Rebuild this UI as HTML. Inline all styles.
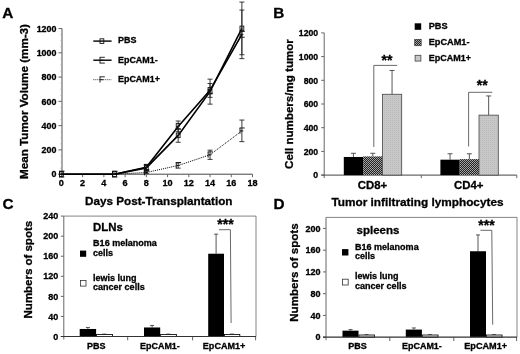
<!DOCTYPE html>
<html><head><meta charset="utf-8"><title>Figure</title>
<style>
html,body{margin:0;padding:0;background:#fff;}
svg{display:block;font-family:'Liberation Sans', Arial, Helvetica, sans-serif;}
text{stroke:#000;stroke-width:0.3px;}
</style></head><body>
<svg width="520" height="354" viewBox="0 0 520 354">
<defs>
<pattern id="chk" width="2" height="2" patternUnits="userSpaceOnUse">
<rect width="2" height="2" fill="#222"/><rect x="0" y="0" width="1" height="1" fill="#aaa"/><rect x="1" y="1" width="1" height="1" fill="#999"/>
</pattern>
<pattern id="gry" width="2" height="2" patternUnits="userSpaceOnUse">
<rect width="2" height="2" fill="#c8c8c8"/><rect x="0" y="0" width="1" height="1" fill="#bababa"/>
</pattern>
</defs>
<rect width="520" height="354" fill="#fff"/>

<text x="2.3" y="18.4" font-size="15.3" text-anchor="start" font-weight="bold" fill="#000" >A</text>
<line x1="62" y1="28.519999999999982" x2="62" y2="177.2" stroke="#707070" stroke-width="1.2" />
<line x1="58.4" y1="174.2" x2="252.50600000000003" y2="174.2" stroke="#444" stroke-width="1" />
<line x1="58.4" y1="174.2" x2="62" y2="174.2" stroke="#666" stroke-width="1" />
<text x="56.4" y="177.39999999999998" font-size="8.9" text-anchor="end" font-weight="bold" fill="#000" >0</text>
<line x1="58.4" y1="149.92" x2="62" y2="149.92" stroke="#666" stroke-width="1" />
<text x="56.4" y="153.11999999999998" font-size="8.9" text-anchor="end" font-weight="bold" fill="#000" >200</text>
<line x1="58.4" y1="125.63999999999999" x2="62" y2="125.63999999999999" stroke="#666" stroke-width="1" />
<text x="56.4" y="128.83999999999997" font-size="8.9" text-anchor="end" font-weight="bold" fill="#000" >400</text>
<line x1="58.4" y1="101.35999999999999" x2="62" y2="101.35999999999999" stroke="#666" stroke-width="1" />
<text x="56.4" y="104.55999999999999" font-size="8.9" text-anchor="end" font-weight="bold" fill="#000" >600</text>
<line x1="58.4" y1="77.08" x2="62" y2="77.08" stroke="#666" stroke-width="1" />
<text x="56.4" y="80.28" font-size="8.9" text-anchor="end" font-weight="bold" fill="#000" >800</text>
<line x1="58.4" y1="52.8" x2="62" y2="52.8" stroke="#666" stroke-width="1" />
<text x="56.4" y="56.0" font-size="8.9" text-anchor="end" font-weight="bold" fill="#000" >1000</text>
<line x1="58.4" y1="28.519999999999982" x2="62" y2="28.519999999999982" stroke="#666" stroke-width="1" />
<text x="56.4" y="31.71999999999998" font-size="8.9" text-anchor="end" font-weight="bold" fill="#000" >1200</text>
<line x1="61.4" y1="174.2" x2="61.4" y2="177.2" stroke="#666" stroke-width="1" />
<text x="61.4" y="186.4" font-size="9.1" text-anchor="middle" font-weight="bold" fill="#000" >0</text>
<line x1="82.634" y1="174.2" x2="82.634" y2="177.2" stroke="#666" stroke-width="1" />
<text x="82.634" y="186.4" font-size="9.1" text-anchor="middle" font-weight="bold" fill="#000" >2</text>
<line x1="103.868" y1="174.2" x2="103.868" y2="177.2" stroke="#666" stroke-width="1" />
<text x="103.868" y="186.4" font-size="9.1" text-anchor="middle" font-weight="bold" fill="#000" >4</text>
<line x1="125.102" y1="174.2" x2="125.102" y2="177.2" stroke="#666" stroke-width="1" />
<text x="125.102" y="186.4" font-size="9.1" text-anchor="middle" font-weight="bold" fill="#000" >6</text>
<line x1="146.336" y1="174.2" x2="146.336" y2="177.2" stroke="#666" stroke-width="1" />
<text x="146.336" y="186.4" font-size="9.1" text-anchor="middle" font-weight="bold" fill="#000" >8</text>
<line x1="167.57000000000002" y1="174.2" x2="167.57000000000002" y2="177.2" stroke="#666" stroke-width="1" />
<text x="167.57000000000002" y="186.4" font-size="9.1" text-anchor="middle" font-weight="bold" fill="#000" >10</text>
<line x1="188.804" y1="174.2" x2="188.804" y2="177.2" stroke="#666" stroke-width="1" />
<text x="188.804" y="186.4" font-size="9.1" text-anchor="middle" font-weight="bold" fill="#000" >12</text>
<line x1="210.038" y1="174.2" x2="210.038" y2="177.2" stroke="#666" stroke-width="1" />
<text x="210.038" y="186.4" font-size="9.1" text-anchor="middle" font-weight="bold" fill="#000" >14</text>
<line x1="231.27200000000002" y1="174.2" x2="231.27200000000002" y2="177.2" stroke="#666" stroke-width="1" />
<text x="231.27200000000002" y="186.4" font-size="9.1" text-anchor="middle" font-weight="bold" fill="#000" >16</text>
<line x1="252.50600000000003" y1="174.2" x2="252.50600000000003" y2="177.2" stroke="#666" stroke-width="1" />
<text x="252.50600000000003" y="186.4" font-size="9.1" text-anchor="middle" font-weight="bold" fill="#000" >18</text>
<line x1="60.2" y1="168.13" x2="62" y2="168.13" stroke="#aaa" stroke-width="0.6" />
<line x1="60.2" y1="162.06" x2="62" y2="162.06" stroke="#aaa" stroke-width="0.6" />
<line x1="60.2" y1="155.98999999999998" x2="62" y2="155.98999999999998" stroke="#aaa" stroke-width="0.6" />
<line x1="60.2" y1="143.85" x2="62" y2="143.85" stroke="#aaa" stroke-width="0.6" />
<line x1="60.2" y1="137.77999999999997" x2="62" y2="137.77999999999997" stroke="#aaa" stroke-width="0.6" />
<line x1="60.2" y1="131.70999999999998" x2="62" y2="131.70999999999998" stroke="#aaa" stroke-width="0.6" />
<line x1="60.2" y1="119.57" x2="62" y2="119.57" stroke="#aaa" stroke-width="0.6" />
<line x1="60.2" y1="113.5" x2="62" y2="113.5" stroke="#aaa" stroke-width="0.6" />
<line x1="60.2" y1="107.42999999999999" x2="62" y2="107.42999999999999" stroke="#aaa" stroke-width="0.6" />
<line x1="60.2" y1="95.28999999999999" x2="62" y2="95.28999999999999" stroke="#aaa" stroke-width="0.6" />
<line x1="60.2" y1="89.22" x2="62" y2="89.22" stroke="#aaa" stroke-width="0.6" />
<line x1="60.2" y1="83.14999999999999" x2="62" y2="83.14999999999999" stroke="#aaa" stroke-width="0.6" />
<line x1="60.2" y1="71.00999999999999" x2="62" y2="71.00999999999999" stroke="#aaa" stroke-width="0.6" />
<line x1="60.2" y1="64.94" x2="62" y2="64.94" stroke="#aaa" stroke-width="0.6" />
<line x1="60.2" y1="58.86999999999999" x2="62" y2="58.86999999999999" stroke="#aaa" stroke-width="0.6" />
<line x1="60.2" y1="46.72999999999999" x2="62" y2="46.72999999999999" stroke="#aaa" stroke-width="0.6" />
<line x1="60.2" y1="40.66" x2="62" y2="40.66" stroke="#aaa" stroke-width="0.6" />
<line x1="60.2" y1="34.59" x2="62" y2="34.59" stroke="#aaa" stroke-width="0.6" />
<text x="28.2" y="179" font-size="11.3" text-anchor="start" font-weight="bold" fill="#000" textLength="155" lengthAdjust="spacingAndGlyphs" transform="rotate(-90 28.2 179)" >Mean Tumor Volume (mm-3)</text>
<text x="85" y="205" font-size="11.6" text-anchor="start" font-weight="bold" fill="#000" textLength="147.5" lengthAdjust="spacingAndGlyphs" >Days Post-Transplantation</text>
<polyline points="61.4,174.2 114.5,174.2 146.3,167.9 178.2,135.4 210.0,91.6 241.9,28.4" fill="none" stroke="#000" stroke-width="1.6" />
<rect x="59.50" y="171.90" width="3.80" height="4.60" fill="none" stroke="#111" stroke-width="0.9" />
<rect x="112.59" y="171.90" width="3.80" height="4.60" fill="none" stroke="#111" stroke-width="0.9" />
<line x1="146.336" y1="165.2164" x2="146.336" y2="170.558" stroke="#222" stroke-width="0.9" />
<line x1="143.836" y1="165.2164" x2="148.836" y2="165.2164" stroke="#222" stroke-width="0.9" />
<line x1="143.836" y1="170.558" x2="148.836" y2="170.558" stroke="#222" stroke-width="0.9" />
<rect x="144.44" y="165.59" width="3.80" height="4.60" fill="none" stroke="#111" stroke-width="0.9" />
<line x1="178.187" y1="128.4322" x2="178.187" y2="142.27179999999998" stroke="#222" stroke-width="0.9" />
<line x1="175.687" y1="128.4322" x2="180.687" y2="128.4322" stroke="#222" stroke-width="0.9" />
<line x1="175.687" y1="142.27179999999998" x2="180.687" y2="142.27179999999998" stroke="#222" stroke-width="0.9" />
<rect x="176.29" y="133.05" width="3.80" height="4.60" fill="none" stroke="#111" stroke-width="0.9" />
<line x1="210.038" y1="79.1438" x2="210.038" y2="104.1522" stroke="#222" stroke-width="0.9" />
<line x1="207.538" y1="79.1438" x2="212.538" y2="79.1438" stroke="#222" stroke-width="0.9" />
<line x1="207.538" y1="104.1522" x2="212.538" y2="104.1522" stroke="#222" stroke-width="0.9" />
<rect x="208.14" y="89.35" width="3.80" height="4.60" fill="none" stroke="#111" stroke-width="0.9" />
<line x1="241.889" y1="2.0548" x2="241.889" y2="54.74239999999999" stroke="#222" stroke-width="0.9" />
<line x1="239.389" y1="2.0548" x2="244.389" y2="2.0548" stroke="#222" stroke-width="0.9" />
<line x1="239.389" y1="54.74239999999999" x2="244.389" y2="54.74239999999999" stroke="#222" stroke-width="0.9" />
<rect x="239.99" y="26.10" width="3.80" height="4.60" fill="none" stroke="#111" stroke-width="0.9" />
<polyline points="61.4,174.2 114.5,174.2 146.3,167.3 178.2,126.4 210.0,90.4 241.9,34.3" fill="none" stroke="#000" stroke-width="1.6" />
<line x1="59.5" y1="171.29999999999998" x2="59.5" y2="177.1" stroke="#111" stroke-width="0.9" />
<line x1="59.1" y1="171.29999999999998" x2="64.3" y2="171.29999999999998" stroke="#111" stroke-width="0.9" />
<line x1="59.5" y1="174.2" x2="62.9" y2="174.2" stroke="#111" stroke-width="0.9" />
<line x1="59.1" y1="177.1" x2="64.3" y2="177.1" stroke="#111" stroke-width="0.9" />
<line x1="112.58500000000001" y1="171.29999999999998" x2="112.58500000000001" y2="177.1" stroke="#111" stroke-width="0.9" />
<line x1="112.18500000000002" y1="171.29999999999998" x2="117.38500000000002" y2="171.29999999999998" stroke="#111" stroke-width="0.9" />
<line x1="112.58500000000001" y1="174.2" x2="115.98500000000001" y2="174.2" stroke="#111" stroke-width="0.9" />
<line x1="112.18500000000002" y1="177.1" x2="117.38500000000002" y2="177.1" stroke="#111" stroke-width="0.9" />
<line x1="146.336" y1="164.6094" x2="146.336" y2="169.951" stroke="#222" stroke-width="0.9" />
<line x1="143.836" y1="164.6094" x2="148.836" y2="164.6094" stroke="#222" stroke-width="0.9" />
<line x1="143.836" y1="169.951" x2="148.836" y2="169.951" stroke="#222" stroke-width="0.9" />
<line x1="144.436" y1="164.38019999999997" x2="144.436" y2="170.18019999999999" stroke="#111" stroke-width="0.9" />
<line x1="144.036" y1="164.38019999999997" x2="149.23600000000002" y2="164.38019999999997" stroke="#111" stroke-width="0.9" />
<line x1="144.436" y1="167.28019999999998" x2="147.836" y2="167.28019999999998" stroke="#111" stroke-width="0.9" />
<line x1="144.036" y1="170.18019999999999" x2="149.23600000000002" y2="170.18019999999999" stroke="#111" stroke-width="0.9" />
<line x1="178.187" y1="121.0268" x2="178.187" y2="131.70999999999998" stroke="#222" stroke-width="0.9" />
<line x1="175.687" y1="121.0268" x2="180.687" y2="121.0268" stroke="#222" stroke-width="0.9" />
<line x1="175.687" y1="131.70999999999998" x2="180.687" y2="131.70999999999998" stroke="#222" stroke-width="0.9" />
<line x1="176.287" y1="123.46839999999999" x2="176.287" y2="129.26839999999999" stroke="#111" stroke-width="0.9" />
<line x1="175.887" y1="123.46839999999999" x2="181.08700000000002" y2="123.46839999999999" stroke="#111" stroke-width="0.9" />
<line x1="176.287" y1="126.3684" x2="179.687" y2="126.3684" stroke="#111" stroke-width="0.9" />
<line x1="175.887" y1="129.26839999999999" x2="181.08700000000002" y2="129.26839999999999" stroke="#111" stroke-width="0.9" />
<line x1="210.038" y1="83.51419999999999" x2="210.038" y2="97.35379999999999" stroke="#222" stroke-width="0.9" />
<line x1="207.538" y1="83.51419999999999" x2="212.538" y2="83.51419999999999" stroke="#222" stroke-width="0.9" />
<line x1="207.538" y1="97.35379999999999" x2="212.538" y2="97.35379999999999" stroke="#222" stroke-width="0.9" />
<line x1="208.138" y1="87.53399999999999" x2="208.138" y2="93.334" stroke="#111" stroke-width="0.9" />
<line x1="207.738" y1="87.53399999999999" x2="212.93800000000002" y2="87.53399999999999" stroke="#111" stroke-width="0.9" />
<line x1="208.138" y1="90.434" x2="211.538" y2="90.434" stroke="#111" stroke-width="0.9" />
<line x1="207.738" y1="93.334" x2="212.93800000000002" y2="93.334" stroke="#111" stroke-width="0.9" />
<line x1="241.889" y1="10.067199999999985" x2="241.889" y2="58.62719999999999" stroke="#222" stroke-width="0.9" />
<line x1="239.389" y1="10.067199999999985" x2="244.389" y2="10.067199999999985" stroke="#222" stroke-width="0.9" />
<line x1="239.389" y1="58.62719999999999" x2="244.389" y2="58.62719999999999" stroke="#222" stroke-width="0.9" />
<line x1="239.989" y1="31.447199999999988" x2="239.989" y2="37.247199999999985" stroke="#111" stroke-width="0.9" />
<line x1="239.589" y1="31.447199999999988" x2="244.78900000000002" y2="31.447199999999988" stroke="#111" stroke-width="0.9" />
<line x1="239.989" y1="34.34719999999999" x2="243.389" y2="34.34719999999999" stroke="#111" stroke-width="0.9" />
<line x1="239.589" y1="37.247199999999985" x2="244.78900000000002" y2="37.247199999999985" stroke="#111" stroke-width="0.9" />
<polyline points="61.4,174.2 114.5,174.2 146.3,172.5 178.2,165.5 210.0,154.8 241.9,130.9" fill="none" stroke="#000" stroke-width="1" stroke-dasharray="1 1"/>
<line x1="59.5" y1="171.29999999999998" x2="59.5" y2="177.1" stroke="#111" stroke-width="0.9" />
<line x1="59.1" y1="171.29999999999998" x2="64.3" y2="171.29999999999998" stroke="#111" stroke-width="0.9" />
<line x1="59.5" y1="174.2" x2="62.9" y2="174.2" stroke="#111" stroke-width="0.9" />
<line x1="112.58500000000001" y1="171.29999999999998" x2="112.58500000000001" y2="177.1" stroke="#111" stroke-width="0.9" />
<line x1="112.18500000000002" y1="171.29999999999998" x2="117.38500000000002" y2="171.29999999999998" stroke="#111" stroke-width="0.9" />
<line x1="112.58500000000001" y1="174.2" x2="115.98500000000001" y2="174.2" stroke="#111" stroke-width="0.9" />
<line x1="146.336" y1="171.5292" x2="146.336" y2="173.4716" stroke="#222" stroke-width="0.9" />
<line x1="143.836" y1="171.5292" x2="148.836" y2="171.5292" stroke="#222" stroke-width="0.9" />
<line x1="143.836" y1="173.4716" x2="148.836" y2="173.4716" stroke="#222" stroke-width="0.9" />
<line x1="144.436" y1="169.60039999999998" x2="144.436" y2="175.4004" stroke="#111" stroke-width="0.9" />
<line x1="144.036" y1="169.60039999999998" x2="149.23600000000002" y2="169.60039999999998" stroke="#111" stroke-width="0.9" />
<line x1="144.436" y1="172.50039999999998" x2="147.836" y2="172.50039999999998" stroke="#111" stroke-width="0.9" />
<line x1="178.187" y1="162.7884" x2="178.187" y2="168.13" stroke="#222" stroke-width="0.9" />
<line x1="175.687" y1="162.7884" x2="180.687" y2="162.7884" stroke="#222" stroke-width="0.9" />
<line x1="175.687" y1="168.13" x2="180.687" y2="168.13" stroke="#222" stroke-width="0.9" />
<line x1="176.287" y1="162.55919999999998" x2="176.287" y2="168.3592" stroke="#111" stroke-width="0.9" />
<line x1="175.887" y1="162.55919999999998" x2="181.08700000000002" y2="162.55919999999998" stroke="#111" stroke-width="0.9" />
<line x1="176.287" y1="165.45919999999998" x2="179.687" y2="165.45919999999998" stroke="#111" stroke-width="0.9" />
<line x1="210.038" y1="150.1628" x2="210.038" y2="159.3892" stroke="#222" stroke-width="0.9" />
<line x1="207.538" y1="150.1628" x2="212.538" y2="150.1628" stroke="#222" stroke-width="0.9" />
<line x1="207.538" y1="159.3892" x2="212.538" y2="159.3892" stroke="#222" stroke-width="0.9" />
<line x1="208.138" y1="151.87599999999998" x2="208.138" y2="157.676" stroke="#111" stroke-width="0.9" />
<line x1="207.738" y1="151.87599999999998" x2="212.93800000000002" y2="151.87599999999998" stroke="#111" stroke-width="0.9" />
<line x1="208.138" y1="154.77599999999998" x2="211.538" y2="154.77599999999998" stroke="#111" stroke-width="0.9" />
<line x1="241.889" y1="120.0556" x2="241.889" y2="141.66479999999999" stroke="#222" stroke-width="0.9" />
<line x1="239.389" y1="120.0556" x2="244.389" y2="120.0556" stroke="#222" stroke-width="0.9" />
<line x1="239.389" y1="141.66479999999999" x2="244.389" y2="141.66479999999999" stroke="#222" stroke-width="0.9" />
<line x1="239.989" y1="127.96019999999999" x2="239.989" y2="133.7602" stroke="#111" stroke-width="0.9" />
<line x1="239.589" y1="127.96019999999999" x2="244.78900000000002" y2="127.96019999999999" stroke="#111" stroke-width="0.9" />
<line x1="239.989" y1="130.8602" x2="243.389" y2="130.8602" stroke="#111" stroke-width="0.9" />
<line x1="93.3" y1="41.1" x2="111.6" y2="41.1" stroke="#000" stroke-width="1.4" />
<rect x="100.00" y="38.80" width="3.80" height="4.60" fill="none" stroke="#111" stroke-width="0.9" />
<text x="118" y="43.3" font-size="9" text-anchor="start" font-weight="bold" fill="#000" textLength="18.4" lengthAdjust="spacingAndGlyphs" >PBS</text>
<line x1="93.3" y1="60.2" x2="111.6" y2="60.2" stroke="#000" stroke-width="1.4" />
<line x1="100.0" y1="57.300000000000004" x2="100.0" y2="63.1" stroke="#111" stroke-width="0.9" />
<line x1="99.60000000000001" y1="57.300000000000004" x2="104.80000000000001" y2="57.300000000000004" stroke="#111" stroke-width="0.9" />
<line x1="100.0" y1="60.2" x2="103.4" y2="60.2" stroke="#111" stroke-width="0.9" />
<line x1="99.60000000000001" y1="63.1" x2="104.80000000000001" y2="63.1" stroke="#111" stroke-width="0.9" />
<text x="118" y="62.6" font-size="9" text-anchor="start" font-weight="bold" fill="#000" textLength="39.7" lengthAdjust="spacingAndGlyphs" >EpCAM1-</text>
<line x1="93.3" y1="79.7" x2="111.6" y2="79.7" stroke="#000" stroke-width="0.8" stroke-dasharray="1 1"/>
<line x1="100.0" y1="76.8" x2="100.0" y2="82.60000000000001" stroke="#111" stroke-width="0.9" />
<line x1="99.60000000000001" y1="76.8" x2="104.80000000000001" y2="76.8" stroke="#111" stroke-width="0.9" />
<line x1="100.0" y1="79.7" x2="103.4" y2="79.7" stroke="#111" stroke-width="0.9" />
<text x="118" y="82.2" font-size="9" text-anchor="start" font-weight="bold" fill="#000" textLength="41.9" lengthAdjust="spacingAndGlyphs" >EpCAM1+</text>
<text x="273.3" y="18.4" font-size="15.3" text-anchor="start" font-weight="bold" fill="#000" >B</text>
<line x1="324.2" y1="32.900000000000006" x2="324.2" y2="178.1" stroke="#666" stroke-width="1" />
<line x1="321.2" y1="175.1" x2="516.8" y2="175.1" stroke="#444" stroke-width="1" />
<line x1="421.3" y1="175.1" x2="421.3" y2="178.1" stroke="#666" stroke-width="1" />
<line x1="516.8" y1="175.1" x2="516.8" y2="178.1" stroke="#666" stroke-width="1" />
<line x1="321.2" y1="175.1" x2="324.2" y2="175.1" stroke="#666" stroke-width="1" />
<text x="318.2" y="178.29999999999998" font-size="8.7" text-anchor="end" font-weight="bold" fill="#000" >0</text>
<line x1="321.2" y1="151.4" x2="324.2" y2="151.4" stroke="#666" stroke-width="1" />
<text x="318.2" y="154.6" font-size="8.7" text-anchor="end" font-weight="bold" fill="#000" >200</text>
<line x1="321.2" y1="127.69999999999999" x2="324.2" y2="127.69999999999999" stroke="#666" stroke-width="1" />
<text x="318.2" y="130.89999999999998" font-size="8.7" text-anchor="end" font-weight="bold" fill="#000" >400</text>
<line x1="321.2" y1="104.0" x2="324.2" y2="104.0" stroke="#666" stroke-width="1" />
<text x="318.2" y="107.2" font-size="8.7" text-anchor="end" font-weight="bold" fill="#000" >600</text>
<line x1="321.2" y1="80.3" x2="324.2" y2="80.3" stroke="#666" stroke-width="1" />
<text x="318.2" y="83.5" font-size="8.7" text-anchor="end" font-weight="bold" fill="#000" >800</text>
<line x1="321.2" y1="56.599999999999994" x2="324.2" y2="56.599999999999994" stroke="#666" stroke-width="1" />
<text x="318.2" y="59.8" font-size="8.7" text-anchor="end" font-weight="bold" fill="#000" >1000</text>
<line x1="321.2" y1="32.900000000000006" x2="324.2" y2="32.900000000000006" stroke="#666" stroke-width="1" />
<text x="318.2" y="36.10000000000001" font-size="8.7" text-anchor="end" font-weight="bold" fill="#000" >1200</text>
<text x="292.6" y="168.9" font-size="11.5" text-anchor="start" font-weight="bold" fill="#000" textLength="129.7" lengthAdjust="spacingAndGlyphs" transform="rotate(-90 292.6 168.9)" >Cell numbers/mg tumor</text>
<line x1="353.45" y1="153.296" x2="353.45" y2="156.96949999999998" stroke="#444" stroke-width="0.9" />
<line x1="350.95" y1="153.296" x2="355.95" y2="153.296" stroke="#444" stroke-width="0.9" />
<rect x="343.80" y="156.97" width="19.30" height="18.13" fill="#000" stroke="none" stroke-width="0.8" />
<line x1="372.75" y1="153.296" x2="372.75" y2="156.377" stroke="#444" stroke-width="0.9" />
<line x1="370.25" y1="153.296" x2="375.25" y2="153.296" stroke="#444" stroke-width="0.9" />
<rect x="363.10" y="156.38" width="19.30" height="18.72" fill="url(#chk)" stroke="none" stroke-width="0.8" />
<line x1="392.05" y1="70.4645" x2="392.05" y2="94.283" stroke="#444" stroke-width="0.9" />
<line x1="389.55" y1="70.4645" x2="394.55" y2="70.4645" stroke="#444" stroke-width="0.9" />
<rect x="382.40" y="94.28" width="19.30" height="80.82" fill="url(#gry)" stroke="#444" stroke-width="0.8" />
<line x1="450.04999999999995" y1="153.76999999999998" x2="450.04999999999995" y2="159.695" stroke="#444" stroke-width="0.9" />
<line x1="447.54999999999995" y1="153.76999999999998" x2="452.54999999999995" y2="153.76999999999998" stroke="#444" stroke-width="0.9" />
<rect x="440.40" y="159.69" width="19.30" height="15.41" fill="#000" stroke="none" stroke-width="0.8" />
<line x1="469.34999999999997" y1="153.76999999999998" x2="469.34999999999997" y2="159.1025" stroke="#444" stroke-width="0.9" />
<line x1="466.84999999999997" y1="153.76999999999998" x2="471.84999999999997" y2="153.76999999999998" stroke="#444" stroke-width="0.9" />
<rect x="459.70" y="159.10" width="19.30" height="16.00" fill="url(#chk)" stroke="none" stroke-width="0.8" />
<line x1="488.65" y1="95.942" x2="488.65" y2="115.139" stroke="#444" stroke-width="0.9" />
<line x1="486.15" y1="95.942" x2="491.15" y2="95.942" stroke="#444" stroke-width="0.9" />
<rect x="479.00" y="115.14" width="19.30" height="59.96" fill="url(#gry)" stroke="#444" stroke-width="0.8" />
<polyline points="373.8,147 373.8,65.4 397.2,65.4" fill="none" stroke="#444" stroke-width="0.8"/>
<polyline points="468.6,146.5 468.6,92.3 492.3,92.3" fill="none" stroke="#444" stroke-width="0.8"/>
<text x="387" y="65" font-size="14" text-anchor="middle" font-weight="bold" fill="#000" >**</text>
<text x="482.3" y="90" font-size="14" text-anchor="middle" font-weight="bold" fill="#000" >**</text>
<text x="357.8" y="189" font-size="11" text-anchor="start" font-weight="bold" fill="#000" textLength="29.4" lengthAdjust="spacingAndGlyphs" >CD8+</text>
<text x="454" y="189" font-size="11" text-anchor="start" font-weight="bold" fill="#000" textLength="29.4" lengthAdjust="spacingAndGlyphs" >CD4+</text>
<text x="331.5" y="205.5" font-size="11.6" text-anchor="start" font-weight="bold" fill="#000" textLength="172" lengthAdjust="spacingAndGlyphs" >Tumor infiltrating lymphocytes</text>
<rect x="414.70" y="23.30" width="6.50" height="6.50" fill="#000" stroke="none" stroke-width="1" />
<rect x="414.70" y="39.30" width="6.50" height="6.50" fill="url(#chk)" stroke="#333" stroke-width="0.6" />
<rect x="415.10" y="55.30" width="5.80" height="5.80" fill="#c8c8c8" stroke="#444" stroke-width="0.8" />
<text x="428.7" y="29.2" font-size="9.2" text-anchor="start" font-weight="bold" fill="#000" >PBS</text>
<text x="428.7" y="45.3" font-size="9.2" text-anchor="start" font-weight="bold" fill="#000" >EpCAM1-</text>
<text x="428.7" y="61.2" font-size="9.2" text-anchor="start" font-weight="bold" fill="#000" textLength="42.4" lengthAdjust="spacingAndGlyphs" >EpCAM1+</text>
<text x="2.5" y="208.6" font-size="15.3" text-anchor="start" font-weight="bold" fill="#000" >C</text>
<line x1="63.8" y1="216.1" x2="256" y2="216.1" stroke="#666" stroke-width="0.8" />
<line x1="256" y1="216.1" x2="256" y2="336.5" stroke="#666" stroke-width="0.8" />
<line x1="63.8" y1="216.1" x2="63.8" y2="339.5" stroke="#666" stroke-width="1" />
<line x1="127.7" y1="336.5" x2="127.7" y2="340.3" stroke="#666" stroke-width="1" />
<line x1="192.6" y1="336.5" x2="192.6" y2="340.3" stroke="#666" stroke-width="1" />
<line x1="255.6" y1="336.5" x2="255.6" y2="340.3" stroke="#666" stroke-width="1" />
<line x1="60.8" y1="336.5" x2="63.8" y2="336.5" stroke="#666" stroke-width="1" />
<text x="58.3" y="339.7" font-size="9" text-anchor="end" font-weight="bold" fill="#000" >0</text>
<line x1="60.8" y1="316.432" x2="63.8" y2="316.432" stroke="#666" stroke-width="1" />
<text x="58.3" y="319.632" font-size="9" text-anchor="end" font-weight="bold" fill="#000" >40</text>
<line x1="60.8" y1="296.364" x2="63.8" y2="296.364" stroke="#666" stroke-width="1" />
<text x="58.3" y="299.56399999999996" font-size="9" text-anchor="end" font-weight="bold" fill="#000" >80</text>
<line x1="60.8" y1="276.296" x2="63.8" y2="276.296" stroke="#666" stroke-width="1" />
<text x="58.3" y="279.496" font-size="9" text-anchor="end" font-weight="bold" fill="#000" >120</text>
<line x1="60.8" y1="256.228" x2="63.8" y2="256.228" stroke="#666" stroke-width="1" />
<text x="58.3" y="259.428" font-size="9" text-anchor="end" font-weight="bold" fill="#000" >160</text>
<line x1="60.8" y1="236.16" x2="63.8" y2="236.16" stroke="#666" stroke-width="1" />
<text x="58.3" y="239.35999999999999" font-size="9" text-anchor="end" font-weight="bold" fill="#000" >200</text>
<line x1="60.8" y1="216.09199999999998" x2="63.8" y2="216.09199999999998" stroke="#666" stroke-width="1" />
<text x="58.3" y="219.29199999999997" font-size="9" text-anchor="end" font-weight="bold" fill="#000" >240</text>
<line x1="87.9" y1="327.4694" x2="87.9" y2="328.9745" stroke="#444" stroke-width="0.9" />
<line x1="85.9" y1="327.4694" x2="89.9" y2="327.4694" stroke="#444" stroke-width="0.9" />
<rect x="79.70" y="328.97" width="16.40" height="7.53" fill="#000" stroke="none" stroke-width="1" />
<line x1="104.3" y1="333.9915" x2="104.3" y2="334.4932" stroke="#444" stroke-width="0.7" />
<line x1="102.3" y1="333.9915" x2="106.3" y2="333.9915" stroke="#444" stroke-width="0.7" />
<rect x="96.50" y="334.49" width="16.00" height="2.01" fill="#fff" stroke="#111" stroke-width="0.9" />
<line x1="152.1" y1="325.4626" x2="152.1" y2="327.4694" stroke="#444" stroke-width="0.9" />
<line x1="150.1" y1="325.4626" x2="154.1" y2="325.4626" stroke="#444" stroke-width="0.9" />
<rect x="144.00" y="327.47" width="16.20" height="9.03" fill="#000" stroke="none" stroke-width="1" />
<line x1="168.3" y1="333.9915" x2="168.3" y2="334.4932" stroke="#444" stroke-width="0.7" />
<line x1="166.3" y1="333.9915" x2="170.3" y2="333.9915" stroke="#444" stroke-width="0.7" />
<rect x="160.60" y="334.49" width="15.80" height="2.01" fill="#fff" stroke="#111" stroke-width="0.9" />
<line x1="216.1" y1="234.1532" x2="216.1" y2="253.71949999999998" stroke="#444" stroke-width="0.9" />
<line x1="214.1" y1="234.1532" x2="218.1" y2="234.1532" stroke="#444" stroke-width="0.9" />
<rect x="208.20" y="253.72" width="15.80" height="82.78" fill="#000" stroke="none" stroke-width="1" />
<line x1="231.89999999999998" y1="333.9915" x2="231.89999999999998" y2="334.4932" stroke="#444" stroke-width="0.7" />
<line x1="229.89999999999998" y1="333.9915" x2="233.89999999999998" y2="333.9915" stroke="#444" stroke-width="0.7" />
<rect x="224.40" y="334.49" width="15.40" height="2.01" fill="#fff" stroke="#111" stroke-width="0.9" />
<line x1="60.8" y1="336.5" x2="256" y2="336.5" stroke="#333" stroke-width="1.2" />
<text x="32.2" y="318.4" font-size="11.5" text-anchor="start" font-weight="bold" fill="#000" textLength="97.5" lengthAdjust="spacingAndGlyphs" transform="rotate(-90 32.2 318.4)" >Numbers of spots</text>
<text x="93.1" y="230.8" font-size="11.4" text-anchor="start" font-weight="bold" fill="#000" textLength="29.8" lengthAdjust="spacingAndGlyphs" >DLNs</text>
<rect x="80.00" y="250.60" width="6.20" height="6.20" fill="#000" stroke="none" stroke-width="1" />
<rect x="80.40" y="280.50" width="5.60" height="5.60" fill="#fff" stroke="#333" stroke-width="0.8" />
<text x="93.1" y="246.3" font-size="9" text-anchor="start" font-weight="bold" fill="#000" textLength="63.8" lengthAdjust="spacingAndGlyphs" >B16 melanoma</text>
<text x="93.1" y="255.7" font-size="9" text-anchor="start" font-weight="bold" fill="#000" >cells</text>
<text x="93.1" y="280.6" font-size="9" text-anchor="start" font-weight="bold" fill="#000" >lewis lung</text>
<text x="93.1" y="289.8" font-size="9" text-anchor="start" font-weight="bold" fill="#000" >cancer cells</text>
<polyline points="219,229.7 230.4,229.7 231.1,323" fill="none" stroke="#444" stroke-width="0.8"/>
<text x="225.5" y="229" font-size="14" text-anchor="middle" font-weight="bold" fill="#000" >***</text>
<text x="86.9" y="348.5" font-size="9" text-anchor="start" font-weight="bold" fill="#000" >PBS</text>
<text x="140" y="348.5" font-size="9" text-anchor="start" font-weight="bold" fill="#000" textLength="39.8" lengthAdjust="spacingAndGlyphs" >EpCAM1-</text>
<text x="202.8" y="348.5" font-size="9" text-anchor="start" font-weight="bold" fill="#000" textLength="42.6" lengthAdjust="spacingAndGlyphs" >EpCAM1+</text>
<text x="273.5" y="208.6" font-size="15.3" text-anchor="start" font-weight="bold" fill="#000" >D</text>
<line x1="326" y1="217.4" x2="517" y2="217.4" stroke="#666" stroke-width="0.8" />
<line x1="517" y1="217.4" x2="517" y2="337.2" stroke="#666" stroke-width="0.8" />
<line x1="326" y1="217.4" x2="326" y2="340.2" stroke="#666" stroke-width="1" />
<line x1="389.8" y1="337.2" x2="389.8" y2="341.0" stroke="#666" stroke-width="1" />
<line x1="453.8" y1="337.2" x2="453.8" y2="341.0" stroke="#666" stroke-width="1" />
<line x1="516.6" y1="337.2" x2="516.6" y2="341.0" stroke="#666" stroke-width="1" />
<line x1="323" y1="337.2" x2="326" y2="337.2" stroke="#666" stroke-width="1" />
<text x="320.5" y="340.4" font-size="9" text-anchor="end" font-weight="bold" fill="#000" >0</text>
<line x1="323" y1="315.44" x2="326" y2="315.44" stroke="#666" stroke-width="1" />
<text x="320.5" y="318.64" font-size="9" text-anchor="end" font-weight="bold" fill="#000" >40</text>
<line x1="323" y1="293.68" x2="326" y2="293.68" stroke="#666" stroke-width="1" />
<text x="320.5" y="296.88" font-size="9" text-anchor="end" font-weight="bold" fill="#000" >80</text>
<line x1="323" y1="271.91999999999996" x2="326" y2="271.91999999999996" stroke="#666" stroke-width="1" />
<text x="320.5" y="275.11999999999995" font-size="9" text-anchor="end" font-weight="bold" fill="#000" >120</text>
<line x1="323" y1="250.15999999999997" x2="326" y2="250.15999999999997" stroke="#666" stroke-width="1" />
<text x="320.5" y="253.35999999999996" font-size="9" text-anchor="end" font-weight="bold" fill="#000" >160</text>
<line x1="323" y1="228.39999999999998" x2="326" y2="228.39999999999998" stroke="#666" stroke-width="1" />
<text x="320.5" y="231.59999999999997" font-size="9" text-anchor="end" font-weight="bold" fill="#000" >200</text>
<line x1="350.5" y1="329.584" x2="350.5" y2="330.67199999999997" stroke="#444" stroke-width="0.9" />
<line x1="348.5" y1="329.584" x2="352.5" y2="329.584" stroke="#444" stroke-width="0.9" />
<rect x="342.50" y="330.67" width="16.00" height="6.53" fill="#000" stroke="none" stroke-width="1" />
<line x1="366.5" y1="334.47999999999996" x2="366.5" y2="335.024" stroke="#444" stroke-width="0.7" />
<line x1="364.5" y1="334.47999999999996" x2="368.5" y2="334.47999999999996" stroke="#444" stroke-width="0.7" />
<rect x="358.90" y="335.02" width="15.60" height="2.18" fill="#fff" stroke="#111" stroke-width="0.9" />
<line x1="413.85" y1="327.952" x2="413.85" y2="329.584" stroke="#444" stroke-width="0.9" />
<line x1="411.85" y1="327.952" x2="415.85" y2="327.952" stroke="#444" stroke-width="0.9" />
<rect x="405.80" y="329.58" width="16.10" height="7.62" fill="#000" stroke="none" stroke-width="1" />
<line x1="429.95" y1="334.47999999999996" x2="429.95" y2="335.024" stroke="#444" stroke-width="0.7" />
<line x1="427.95" y1="334.47999999999996" x2="431.95" y2="334.47999999999996" stroke="#444" stroke-width="0.7" />
<rect x="422.30" y="335.02" width="15.70" height="2.18" fill="#fff" stroke="#111" stroke-width="0.9" />
<line x1="478.0" y1="234.928" x2="478.0" y2="251.248" stroke="#444" stroke-width="0.9" />
<line x1="476.0" y1="234.928" x2="480.0" y2="234.928" stroke="#444" stroke-width="0.9" />
<rect x="470.00" y="251.25" width="16.00" height="85.95" fill="#000" stroke="none" stroke-width="1" />
<line x1="494.0" y1="334.47999999999996" x2="494.0" y2="335.024" stroke="#444" stroke-width="0.7" />
<line x1="492.0" y1="334.47999999999996" x2="496.0" y2="334.47999999999996" stroke="#444" stroke-width="0.7" />
<rect x="486.40" y="335.02" width="15.60" height="2.18" fill="#fff" stroke="#111" stroke-width="0.9" />
<line x1="323" y1="337.2" x2="517" y2="337.2" stroke="#333" stroke-width="1.2" />
<text x="298" y="321.8" font-size="11.5" text-anchor="start" font-weight="bold" fill="#000" textLength="98.4" lengthAdjust="spacingAndGlyphs" transform="rotate(-90 298 321.8)" >Numbers of spots</text>
<text x="356.5" y="233.5" font-size="11.5" text-anchor="start" font-weight="bold" fill="#000" textLength="42.9" lengthAdjust="spacingAndGlyphs" >spleens</text>
<rect x="342.00" y="249.10" width="6.40" height="6.40" fill="#000" stroke="none" stroke-width="1" />
<rect x="342.40" y="279.20" width="5.80" height="5.80" fill="#fff" stroke="#333" stroke-width="0.8" />
<text x="354.9" y="250" font-size="9" text-anchor="start" font-weight="bold" fill="#000" textLength="63.8" lengthAdjust="spacingAndGlyphs" >B16 melanoma</text>
<text x="354.9" y="259.1" font-size="9" text-anchor="start" font-weight="bold" fill="#000" >cells</text>
<text x="354.9" y="279.4" font-size="9" text-anchor="start" font-weight="bold" fill="#000" >lewis lung</text>
<text x="354.9" y="288.5" font-size="9" text-anchor="start" font-weight="bold" fill="#000" >cancer cells</text>
<polyline points="480.4,230.3 491.8,230.3 492.7,324.6" fill="none" stroke="#444" stroke-width="0.8"/>
<text x="486.5" y="230" font-size="14" text-anchor="middle" font-weight="bold" fill="#000" >***</text>
<text x="348.3" y="349.4" font-size="9" text-anchor="start" font-weight="bold" fill="#000" >PBS</text>
<text x="402" y="349" font-size="9" text-anchor="start" font-weight="bold" fill="#000" textLength="39.8" lengthAdjust="spacingAndGlyphs" >EpCAM1-</text>
<text x="464.2" y="349.2" font-size="9" text-anchor="start" font-weight="bold" fill="#000" textLength="43" lengthAdjust="spacingAndGlyphs" >EpCAM1+</text>
</svg></body></html>
